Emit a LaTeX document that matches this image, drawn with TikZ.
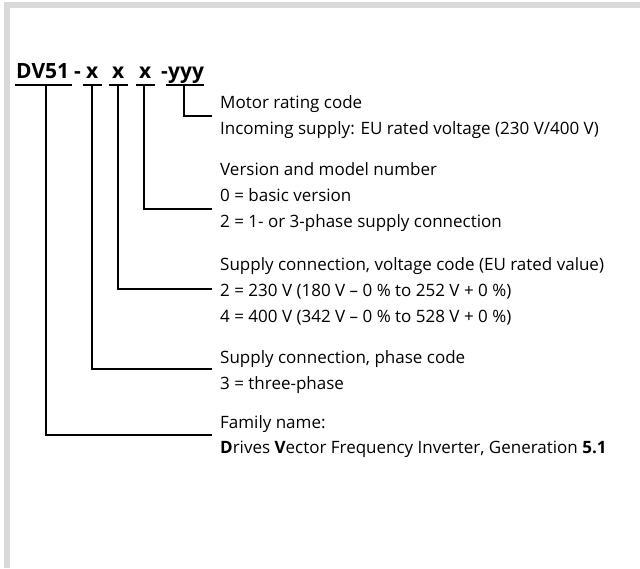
\documentclass[tikz,border=0pt]{standalone}
\usepackage{fontspec}
\setmainfont{Open Sans}
\definecolor{framegray}{HTML}{D9D9D9}
\begin{document}
\begin{tikzpicture}[x=1pt,y=-1pt,
  titlepart/.style={anchor=base west,inner sep=0pt,font=\fontsize{21}{24}\selectfont\bfseries},
  desc/.style={anchor=base west,inner sep=0pt,font=\fontsize{17}{20}\selectfont},
  conn/.style={line width=2pt},
  uline/.style={line width=2pt}]
\useasboundingbox (0,0) rectangle (640,568);
% frame
\fill[framegray] (4,2) rectangle (640,8);
\fill[framegray] (4,2) rectangle (10,568);
% title
\node[titlepart] (dv) at (16,78) {DV51};
\node[titlepart] (d1) at (74,78) {-};
\node[titlepart] (xa) at (86,78) {x};
\node[titlepart] (xb) at (112,78) {x};
\node[titlepart] (xc) at (139,78) {x};
\node[titlepart] (d2) at (161,78) {-};
\node[titlepart] (yy) at (168,78) {yyy};
% underlines
\draw[uline] (15,85) -- (72,85);
\draw[uline] (83,85) -- (102,85);
\draw[uline] (109,85) -- (128,85);
\draw[uline] (136,85) -- (155,85);
\draw[uline] (166,85) -- (204,85);
% descriptions
\node[desc] (b1a) at (220,108) {Motor rating code};
\node[desc] (b1b) at (220,134) {Incoming supply: EU rated voltage (230 V/400 V)};
\node[desc] (b2a) at (220,175) {Version and model number};
\node[desc] (b2b) at (220,201) {0 = basic version};
\node[desc] (b2c) at (220,227) {2 = 1- or 3-phase supply connection};
\node[desc] (b3a) at (220,270) {Supply connection, voltage code (EU rated value)};
\node[desc] (b3b) at (220,296) {2 = 230 V (180 V – 0 \% to 252 V + 0 \%)};
\node[desc] (b3c) at (220,322) {4 = 400 V (342 V – 0 \% to 528 V + 0 \%)};
\node[desc] (b4a) at (220,363) {Supply connection, phase code};
\node[desc] (b4b) at (220,389) {3 = three-phase};
\node[desc] (b5a) at (220,428) {Family name:};
\node[desc] (b5b) at (220,453) {\textbf{D}rives \textbf{V}ector Frequency Inverter, Generation \textbf{5.1}};
% connector points
\coordinate (uyy) at (184,85);
\coordinate (uxc) at (144,85);
\coordinate (uxb) at (118,85);
\coordinate (uxa) at (92,85);
\coordinate (udv) at (46,85);
\coordinate (e1) at (212,116);
\coordinate (e2) at (212,209);
\coordinate (e3) at (212,289);
\coordinate (e4) at (212,369);
\coordinate (e5) at (212,435);
\draw[conn] (uyy) |- (e1);
\draw[conn] (uxc) |- (e2);
\draw[conn] (uxb) |- (e3);
\draw[conn] (uxa) |- (e4);
\draw[conn] (udv) |- (e5);
\end{tikzpicture}
\end{document}
